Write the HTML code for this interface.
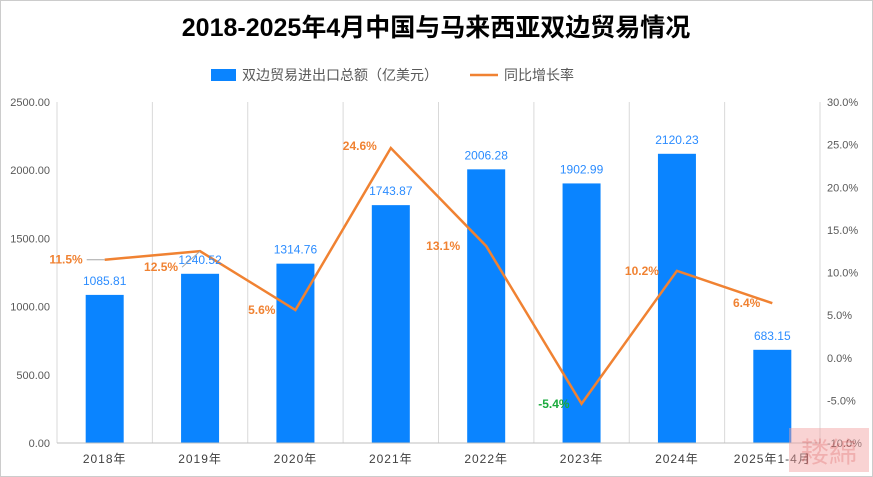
<!DOCTYPE html>
<html><head><meta charset="utf-8"><style>
body{margin:0;background:#fff}
svg{display:block;font-family:"Liberation Sans","Noto Sans CJK SC",sans-serif}
</style></head><body>
<svg width="873" height="477">
<rect x="0.5" y="0.5" width="872" height="476" fill="#fff" stroke="#ccc"/>
<text x="436" y="36" text-anchor="middle" font-size="25" font-weight="bold" fill="#000">2018-2025年4月中国与马来西亚双边贸易情况</text>
<g>
<rect x="211" y="69" width="25" height="12" fill="#0a84ff"/>
<text x="242" y="80" font-size="14" fill="#595959">双边贸易进出口总额（亿美元）</text>
<line x1="470" y1="75" x2="498" y2="75" stroke="#f08232" stroke-width="2.5"/>
<text x="504" y="80" font-size="14" fill="#595959">同比增长率</text>
</g>
<g id="grid"></g><g id="bars"></g><g id="line"></g><g id="labels"></g><g id="axes"></g>
<g opacity="0.45">
<rect x="789" y="428" width="80" height="44" fill="#f3a0a0"/>
<text x="829" y="462" text-anchor="middle" font-size="28" fill="#e05050">耧綿</text>
</g>
</svg>
<script>
const categories=["2018年","2019年","2020年","2021年","2022年","2023年","2024年","2025年1-4月"];
const tradeValues=[1085.81,1240.52,1314.76,1743.87,2006.28,1902.99,2120.23,683.15];
const growthRates=[11.5,12.5,5.6,24.6,13.1,-5.4,10.2,6.4];
const leftTicks=[0,500,1000,1500,2000,2500];
const rightTicks=[-10,-5,0,5,10,15,20,25,30];
const NS="http://www.w3.org/2000/svg";
const X0=57,X1=820,Y0=443,Y1=102,bw=(X1-X0)/categories.length;
const xc=i=>X0+bw*(i+0.5);
const yl=v=>Y0-(v/2500)*(Y0-Y1);
const yr=v=>Y0-((v+10)/40)*(Y0-Y1);
function el(p,t,a,txt){const e=document.createElementNS(NS,t);for(const k in a)e.setAttribute(k,a[k]);if(txt!=null)e.textContent=txt;document.getElementById(p).appendChild(e);return e;}
for(let i=0;i<=categories.length;i++){const g=el('grid','line',{x1:X0+bw*i,x2:X0+bw*i,y1:Y1,y2:Y0,stroke:'#d9d9d9'});

}
const ax=el('axes','line',{x1:X0,x2:X1,y1:Y0,y2:Y0,stroke:'#bfbfbf'});


leftTicks.forEach(v=>{const t=el('axes','text',{x:50,y:yl(v)+4,'text-anchor':'end','font-size':11,fill:'#595959'},v.toFixed(2));

});
rightTicks.forEach(v=>{const t=el('axes','text',{x:827,y:yr(v)+4,'font-size':11,fill:'#595959'},v.toFixed(1)+'%');

});
categories.forEach((c,i)=>{const t=el('axes','text',{x:xc(i),y:463,'text-anchor':'middle','font-size':12,fill:'#404040','letter-spacing':'1'},c);

});
tradeValues.forEach((v,i)=>{const r=el('bars','rect',{x:xc(i)-19,y:yl(v),width:38,height:Y0-yl(v),fill:'#0a84ff'});


const t=el('labels','text',{x:xc(i),y:yl(v)-10,'text-anchor':'middle','font-size':12,fill:'#2b8cff'},v.toFixed(2));

});
const pl=el('line','polyline',{points:growthRates.map((v,i)=>xc(i)+','+yr(v)).join(' '),fill:'none',stroke:'#f08232','stroke-width':2.5});


const offs=[[-22,0],[-22,16],[-20,0],[-14,-2],[-26,0],[-12,0],[-18,0],[-12,0]];
growthRates.forEach((v,i)=>{const [dx,dy]=offs[i];const x=xc(i)+dx,y=yr(v)+dy;
if(i<2){const l=el('labels','line',{x1:x+4,y1:y,x2:xc(i),y2:yr(v),stroke:'#a6a6a6'});

}
const t=el('labels','text',{x:x,y:y+4,'text-anchor':'end','font-size':12,'font-weight':'bold',fill:v<0?'#1aaa3c':'#f08232'},v.toFixed(1)+'%');

});
</script>
</body></html>
